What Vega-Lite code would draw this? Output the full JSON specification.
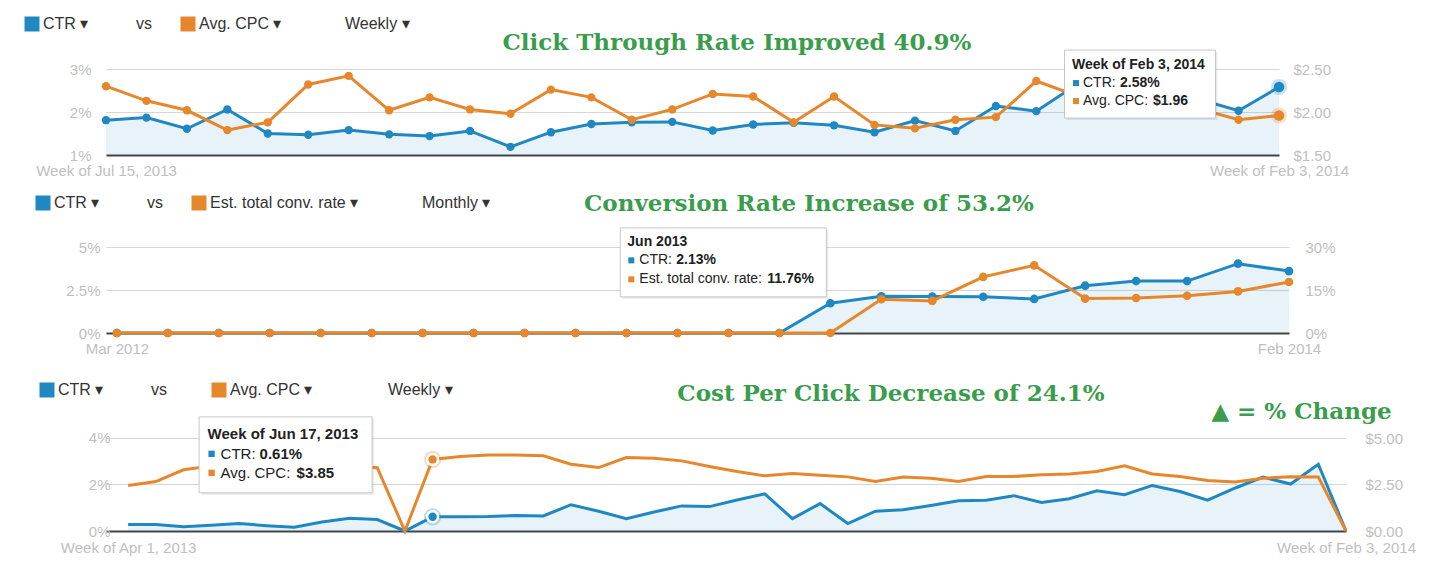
{
  "$schema": "https://vega.github.io/schema/vega-lite/v6.json",
  "background": "white",
  "padding": {"left": 24, "top": 16, "right": 5, "bottom": 5},
  "config": {"view": {"stroke": null}},
  "spacing": 92,
  "bounds": "flush",
  "resolve": {"scale": {"color": "independent"}},
  "vconcat": [
    {
      "width": 1173,
      "height": 86,
      "title": {"text": "Click Through Rate Improved 40.9%", "frame": "group", "anchor": "middle", "dx": 44.5, "offset": -50, "baseline": "middle", "font": "DejaVu Serif", "fontSize": 23, "fontWeight": "bold", "color": "#3a9d4c"},
      "data": {"values": [
        {"w": "Jul 15, 2013", "ctr": 1.81, "cpc": 2.30},
        {"w": "Jul 22, 2013", "ctr": 1.87, "cpc": 2.13},
        {"w": "Jul 29, 2013", "ctr": 1.61, "cpc": 2.02},
        {"w": "Aug 5, 2013", "ctr": 2.06, "cpc": 1.79},
        {"w": "Aug 12, 2013", "ctr": 1.50, "cpc": 1.88},
        {"w": "Aug 19, 2013", "ctr": 1.47, "cpc": 2.32},
        {"w": "Aug 26, 2013", "ctr": 1.58, "cpc": 2.42},
        {"w": "Sep 2, 2013", "ctr": 1.48, "cpc": 2.02},
        {"w": "Sep 9, 2013", "ctr": 1.44, "cpc": 2.17},
        {"w": "Sep 16, 2013", "ctr": 1.56, "cpc": 2.03},
        {"w": "Sep 23, 2013", "ctr": 1.19, "cpc": 1.98},
        {"w": "Sep 30, 2013", "ctr": 1.53, "cpc": 2.26},
        {"w": "Oct 7, 2013", "ctr": 1.72, "cpc": 2.17},
        {"w": "Oct 14, 2013", "ctr": 1.76, "cpc": 1.91},
        {"w": "Oct 21, 2013", "ctr": 1.77, "cpc": 2.03},
        {"w": "Oct 28, 2013", "ctr": 1.57, "cpc": 2.21},
        {"w": "Nov 4, 2013", "ctr": 1.71, "cpc": 2.18},
        {"w": "Nov 11, 2013", "ctr": 1.75, "cpc": 1.88},
        {"w": "Nov 18, 2013", "ctr": 1.69, "cpc": 2.18},
        {"w": "Nov 25, 2013", "ctr": 1.53, "cpc": 1.85},
        {"w": "Dec 2, 2013", "ctr": 1.80, "cpc": 1.81},
        {"w": "Dec 9, 2013", "ctr": 1.56, "cpc": 1.91},
        {"w": "Dec 16, 2013", "ctr": 2.14, "cpc": 1.94},
        {"w": "Dec 23, 2013", "ctr": 2.02, "cpc": 2.36},
        {"w": "Dec 30, 2013", "ctr": 2.64, "cpc": 2.19},
        {"w": "Jan 6, 2014", "ctr": 2.50, "cpc": 2.15},
        {"w": "Jan 13, 2014", "ctr": 2.40, "cpc": 2.10},
        {"w": "Jan 20, 2014", "ctr": 2.30, "cpc": 2.04},
        {"w": "Jan 27, 2014", "ctr": 2.03, "cpc": 1.91},
        {"w": "Feb 3, 2014", "ctr": 2.58, "cpc": 1.96}
      ]},
      "encoding": {
        "x": {"field": "w", "type": "ordinal", "sort": null,
          "scale": {"type": "point", "padding": 0, "align": 1},
          "axis": {"values": ["Jul 15, 2013", "Feb 3, 2014"], "labelExpr": "'Week of ' + datum.label", "title": null, "ticks": false, "grid": false, "domainColor": "#444444", "domainWidth": 2, "labelAngle": 0, "labelAlign": "center", "labelFlush": false, "labelOverlap": false, "labelPadding": 8, "labelFontSize": 15, "labelColor": "#c0c0c0", "labelFont": "Liberation Sans"}}
      },
      "layer": [
        {
          "encoding": {"y": {"field": "ctr", "type": "quantitative", "scale": {"domain": [1, 3], "nice": false, "zero": false},
            "axis": {"orient": "left", "values": [1, 2, 3], "labelExpr": "datum.value + '%'", "title": null, "grid": true, "gridColor": "#d6d6d6", "domain": false, "ticks": false, "labelPadding": 15, "labelFontSize": 15, "labelColor": "#c0c0c0", "labelFont": "Liberation Sans"}}},
          "layer": [
            {"mark": {"type": "area", "color": "#1f88c2", "opacity": 0.1, "clip": true}},
            {"mark": {"type": "line", "color": "#1f88c2", "strokeWidth": 3}},
            {"mark": {"type": "point", "filled": true, "opacity": 1, "size": 70},
             "encoding": {"color": {"datum": "CTR", "type": "nominal",
               "scale": {"domain": ["CTR", "vs", "Avg. CPC", "Weekly"], "range": ["#1f88c2", "rgba(0,0,0,0)", "#e6872c", "rgba(0,0,0,0)"]},
               "legend": {"title": null, "orient": "none", "legendX": -82, "legendY": -53, "direction": "horizontal", "symbolType": "square", "symbolSize": 225, "symbolStrokeWidth": 0, "labelFont": "Liberation Sans", "labelFontSize": 16, "labelColor": "#333333", "labelOffset": 3, "columnPadding": 28, "labelLimit": 400, "padding": 0,
                 "labelExpr": "datum.label === 'vs' ? 'vs' : datum.label === 'Weekly' ? '\u200b\u2003Weekly ▾' : datum.label + ' ▾'"}}}},
            {"transform": [{"filter": "datum.w === 'Feb 3, 2014'"}], "mark": {"type": "point", "filled": true, "color": "#1f88c2", "opacity": 0.25, "size": 260}},
            {"transform": [{"filter": "datum.w === 'Feb 3, 2014'"}], "mark": {"type": "point", "filled": true, "color": "#1f88c2", "opacity": 1, "size": 110}}
          ]
        },
        {
          "encoding": {"y": {"field": "cpc", "type": "quantitative", "scale": {"domain": [1.5, 2.5], "nice": false, "zero": false},
            "axis": {"orient": "right", "values": [1.5, 2, 2.5], "format": "$.2f", "title": null, "grid": false, "domain": false, "ticks": false, "labelPadding": 14, "labelFontSize": 15, "labelColor": "#c0c0c0", "labelFont": "Liberation Sans"}}},
          "layer": [
            {"mark": {"type": "line", "color": "#e6872c", "strokeWidth": 3}},
            {"mark": {"type": "point", "filled": true, "opacity": 1, "size": 70},
             "encoding": {"color": {"datum": "Avg. CPC", "type": "nominal"}}},
            {"transform": [{"filter": "datum.w === 'Feb 3, 2014'"}], "mark": {"type": "point", "filled": true, "color": "#e6872c", "opacity": 0.25, "size": 260}},
            {"transform": [{"filter": "datum.w === 'Feb 3, 2014'"}], "mark": {"type": "point", "filled": true, "color": "#e6872c", "opacity": 1, "size": 110}}
          ]
        },
        {
          "transform": [{"filter": "datum.w === 'Feb 3, 2014'"}],
          "encoding": {"y": {"field": "ctr", "type": "quantitative", "scale": {"domain": [1, 3], "nice": false, "zero": false}, "axis": null}},
          "layer": [
            {"mark": {"type": "point", "shape": "M-1,-0.4503L1,-0.4503L1,0.4503L-1,0.4503Z", "size": 22801, "filled": true, "fill": "#000000", "opacity": 0.08, "strokeWidth": 0, "xOffset": -137, "yOffset": -1}},
            {"mark": {"type": "point", "shape": "M-1,-0.4503L1,-0.4503L1,0.4503L-1,0.4503Z", "size": 22801, "filled": true, "fill": "#ffffff", "stroke": "#c8c8c8", "strokeWidth": 1, "opacity": 1, "xOffset": -139, "yOffset": -3}},
            {"mark": {"type": "text", "text": "Week of Feb 3, 2014", "align": "left", "baseline": "middle", "dx": -207, "dy": -22, "font": "Liberation Sans", "fontSize": 14, "fontWeight": "bold", "color": "#222222"}},
            {"mark": {"type": "point", "shape": "square", "size": 36, "filled": true, "color": "#1f88c2", "opacity": 1, "xOffset": -203, "yOffset": -4}},
            {"mark": {"type": "text", "text": "CTR:", "align": "left", "baseline": "middle", "dx": -196, "dy": -4, "font": "Liberation Sans", "fontSize": 14, "color": "#222222"}},
            {"mark": {"type": "text", "text": "2.58%", "align": "left", "baseline": "middle", "dx": -159, "dy": -4, "font": "Liberation Sans", "fontSize": 14, "fontWeight": "bold", "color": "#222222"}},
            {"mark": {"type": "point", "shape": "square", "size": 36, "filled": true, "color": "#e6872c", "opacity": 1, "xOffset": -203, "yOffset": 14}},
            {"mark": {"type": "text", "text": "Avg. CPC:", "align": "left", "baseline": "middle", "dx": -196, "dy": 14, "font": "Liberation Sans", "fontSize": 14, "color": "#222222"}},
            {"mark": {"type": "text", "text": "$1.96", "align": "left", "baseline": "middle", "dx": -126, "dy": 14, "font": "Liberation Sans", "fontSize": 14, "fontWeight": "bold", "color": "#222222"}}
          ]
        }
      ],
      "resolve": {"scale": {"y": "independent"}}
    },
    {
      "width": 1183,
      "height": 86,
      "title": {"text": "Conversion Rate Increase of 53.2%", "frame": "group", "anchor": "middle", "dx": 111.5, "offset": -32, "baseline": "middle", "font": "DejaVu Serif", "fontSize": 23, "fontWeight": "bold", "color": "#3a9d4c"},
      "data": {"values": [
        {"w": "Mar 2012", "ctr": 0, "conv": 0},
        {"w": "Apr 2012", "ctr": 0, "conv": 0},
        {"w": "May 2012", "ctr": 0, "conv": 0},
        {"w": "Jun 2012", "ctr": 0, "conv": 0},
        {"w": "Jul 2012", "ctr": 0, "conv": 0},
        {"w": "Aug 2012", "ctr": 0, "conv": 0},
        {"w": "Sep 2012", "ctr": 0, "conv": 0},
        {"w": "Oct 2012", "ctr": 0, "conv": 0},
        {"w": "Nov 2012", "ctr": 0, "conv": 0},
        {"w": "Dec 2012", "ctr": 0, "conv": 0},
        {"w": "Jan 2013", "ctr": 0, "conv": 0},
        {"w": "Feb 2013", "ctr": 0, "conv": 0},
        {"w": "Mar 2013", "ctr": 0, "conv": 0},
        {"w": "Apr 2013", "ctr": 0, "conv": 0},
        {"w": "May 2013", "ctr": 1.73, "conv": 0},
        {"w": "Jun 2013", "ctr": 2.13, "conv": 11.76},
        {"w": "Jul 2013", "ctr": 2.12, "conv": 11.2},
        {"w": "Aug 2013", "ctr": 2.11, "conv": 19.6},
        {"w": "Sep 2013", "ctr": 1.98, "conv": 23.6},
        {"w": "Oct 2013", "ctr": 2.75, "conv": 12.0},
        {"w": "Nov 2013", "ctr": 3.02, "conv": 12.2},
        {"w": "Dec 2013", "ctr": 3.02, "conv": 13.0},
        {"w": "Jan 2014", "ctr": 4.03, "conv": 14.5},
        {"w": "Feb 2014", "ctr": 3.60, "conv": 17.8}
      ]},
      "encoding": {
        "x": {"field": "w", "type": "ordinal", "sort": null,
          "scale": {"type": "point", "padding": 0.107, "align": 1},
          "axis": {"values": ["Mar 2012", "Feb 2014"], "title": null, "ticks": false, "grid": false, "domainColor": "#444444", "domainWidth": 2, "labelAngle": 0, "labelAlign": "center", "labelFlush": false, "labelOverlap": false, "labelPadding": 8, "labelFontSize": 15, "labelColor": "#c0c0c0", "labelFont": "Liberation Sans"}}
      },
      "layer": [
        {
          "encoding": {"y": {"field": "ctr", "type": "quantitative", "scale": {"domain": [0, 5], "nice": false},
            "axis": {"orient": "left", "values": [0, 2.5, 5], "labelExpr": "datum.value + '%'", "title": null, "grid": true, "gridColor": "#d6d6d6", "domain": false, "ticks": false, "labelPadding": 6, "labelFontSize": 15, "labelColor": "#c0c0c0", "labelFont": "Liberation Sans"}}},
          "layer": [
            {"mark": {"type": "area", "color": "#1f88c2", "opacity": 0.1, "clip": true}},
            {"mark": {"type": "line", "color": "#1f88c2", "strokeWidth": 3}},
            {"mark": {"type": "point", "filled": true, "opacity": 1, "size": 75},
             "encoding": {"color": {"datum": "CTR", "type": "nominal",
               "scale": {"domain": ["CTR", "vs", "Est. total conv. rate", "Monthly"], "range": ["#1f88c2", "rgba(0,0,0,0)", "#e6872c", "rgba(0,0,0,0)"]},
               "legend": {"title": null, "orient": "none", "legendX": -71, "legendY": -52, "direction": "horizontal", "symbolType": "square", "symbolSize": 225, "symbolStrokeWidth": 0, "labelFont": "Liberation Sans", "labelFontSize": 16, "labelColor": "#333333", "labelOffset": 3, "columnPadding": 28, "labelLimit": 400, "padding": 0,
                 "labelExpr": "datum.label === 'vs' ? 'vs' : datum.label === 'Monthly' ? '\u200b\u2003Monthly ▾' : datum.label + ' ▾'"}}}}
          ]
        },
        {
          "encoding": {"y": {"field": "conv", "type": "quantitative", "scale": {"domain": [0, 30], "nice": false},
            "axis": {"orient": "right", "values": [0, 15, 30], "labelExpr": "datum.value + '%'", "title": null, "grid": false, "domain": false, "ticks": false, "labelPadding": 16, "labelFontSize": 15, "labelColor": "#c0c0c0", "labelFont": "Liberation Sans"}}},
          "layer": [
            {"mark": {"type": "line", "color": "#e6872c", "strokeWidth": 3}},
            {"mark": {"type": "point", "filled": true, "opacity": 1, "size": 75},
             "encoding": {"color": {"datum": "Est. total conv. rate", "type": "nominal"}}}
          ]
        },
        {
          "transform": [{"filter": "datum.w === 'Jun 2013'"}],
          "encoding": {"y": {"field": "ctr", "type": "quantitative", "scale": {"domain": [0, 5], "nice": false}, "axis": null}},
          "layer": [
            {"mark": {"type": "point", "shape": "M-1,-0.335L1,-0.335L1,0.335L-1,0.335Z", "size": 42436, "filled": true, "fill": "#000000", "opacity": 0.08, "strokeWidth": 0, "xOffset": -156, "yOffset": -32}},
            {"mark": {"type": "point", "shape": "M-1,-0.335L1,-0.335L1,0.335L-1,0.335Z", "size": 42436, "filled": true, "fill": "#ffffff", "stroke": "#c8c8c8", "strokeWidth": 1, "opacity": 1, "xOffset": -158, "yOffset": -34}},
            {"mark": {"type": "text", "text": "Jun 2013", "align": "left", "baseline": "middle", "dx": -254, "dy": -54, "font": "Liberation Sans", "fontSize": 14, "fontWeight": "bold", "color": "#222222"}},
            {"mark": {"type": "point", "shape": "square", "size": 36, "filled": true, "color": "#1f88c2", "opacity": 1, "xOffset": -250, "yOffset": -36}},
            {"mark": {"type": "text", "text": "CTR:", "align": "left", "baseline": "middle", "dx": -242, "dy": -36, "font": "Liberation Sans", "fontSize": 14, "color": "#222222"}},
            {"mark": {"type": "text", "text": "2.13%", "align": "left", "baseline": "middle", "dx": -205, "dy": -36, "font": "Liberation Sans", "fontSize": 14, "fontWeight": "bold", "color": "#222222"}},
            {"mark": {"type": "point", "shape": "square", "size": 36, "filled": true, "color": "#e6872c", "opacity": 1, "xOffset": -250, "yOffset": -17}},
            {"mark": {"type": "text", "text": "Est. total conv. rate:", "align": "left", "baseline": "middle", "dx": -242, "dy": -17, "font": "Liberation Sans", "fontSize": 14, "color": "#222222"}},
            {"mark": {"type": "text", "text": "11.76%", "align": "left", "baseline": "middle", "dx": -114, "dy": -17, "font": "Liberation Sans", "fontSize": 14, "fontWeight": "bold", "color": "#222222"}}
          ]
        }
      ],
      "resolve": {"scale": {"y": "independent"}}
    },
    {
      "width": 1240,
      "height": 106,
      "title": {"text": "Cost Per Click Decrease of 24.1%", "frame": "group", "anchor": "middle", "dx": 165, "offset": -35, "baseline": "middle", "font": "DejaVu Serif", "fontSize": 23, "fontWeight": "bold", "color": "#3a9d4c"},
      "data": {"values": [
        {"w": "Apr 1, 2013", "ctr": 0.28, "cpc": 2.45},
        {"w": "Apr 8, 2013", "ctr": 0.28, "cpc": 2.66},
        {"w": "Apr 15, 2013", "ctr": 0.18, "cpc": 3.29},
        {"w": "Apr 22, 2013", "ctr": 0.25, "cpc": 3.50},
        {"w": "Apr 29, 2013", "ctr": 0.32, "cpc": 3.60},
        {"w": "May 6, 2013", "ctr": 0.23, "cpc": 3.70},
        {"w": "May 13, 2013", "ctr": 0.16, "cpc": 3.65},
        {"w": "May 20, 2013", "ctr": 0.39, "cpc": 3.55},
        {"w": "May 27, 2013", "ctr": 0.55, "cpc": 3.50},
        {"w": "Jun 3, 2013", "ctr": 0.49, "cpc": 3.40},
        {"w": "Jun 10, 2013", "ctr": 0, "cpc": 0},
        {"w": "Jun 17, 2013", "ctr": 0.61, "cpc": 3.85},
        {"w": "Jun 24, 2013", "ctr": 0.61, "cpc": 4.00},
        {"w": "Jul 1, 2013", "ctr": 0.62, "cpc": 4.09},
        {"w": "Jul 8, 2013", "ctr": 0.67, "cpc": 4.09},
        {"w": "Jul 15, 2013", "ctr": 0.65, "cpc": 4.04},
        {"w": "Jul 22, 2013", "ctr": 1.13, "cpc": 3.59},
        {"w": "Jul 29, 2013", "ctr": 0.85, "cpc": 3.41},
        {"w": "Aug 5, 2013", "ctr": 0.53, "cpc": 3.95},
        {"w": "Aug 12, 2013", "ctr": 0.82, "cpc": 3.91},
        {"w": "Aug 19, 2013", "ctr": 1.08, "cpc": 3.77},
        {"w": "Aug 26, 2013", "ctr": 1.05, "cpc": 3.47},
        {"w": "Sep 2, 2013", "ctr": 1.33, "cpc": 3.20},
        {"w": "Sep 9, 2013", "ctr": 1.60, "cpc": 2.97},
        {"w": "Sep 16, 2013", "ctr": 0.53, "cpc": 3.09},
        {"w": "Sep 23, 2013", "ctr": 1.18, "cpc": 3.00},
        {"w": "Sep 30, 2013", "ctr": 0.32, "cpc": 2.91},
        {"w": "Oct 7, 2013", "ctr": 0.85, "cpc": 2.66},
        {"w": "Oct 14, 2013", "ctr": 0.91, "cpc": 2.90},
        {"w": "Oct 21, 2013", "ctr": 1.10, "cpc": 2.84},
        {"w": "Oct 28, 2013", "ctr": 1.30, "cpc": 2.66},
        {"w": "Nov 4, 2013", "ctr": 1.32, "cpc": 2.93},
        {"w": "Nov 11, 2013", "ctr": 1.52, "cpc": 2.93},
        {"w": "Nov 18, 2013", "ctr": 1.23, "cpc": 3.02},
        {"w": "Nov 25, 2013", "ctr": 1.39, "cpc": 3.06},
        {"w": "Dec 2, 2013", "ctr": 1.73, "cpc": 3.20},
        {"w": "Dec 9, 2013", "ctr": 1.56, "cpc": 3.50},
        {"w": "Dec 16, 2013", "ctr": 1.96, "cpc": 3.07},
        {"w": "Dec 23, 2013", "ctr": 1.70, "cpc": 2.93},
        {"w": "Dec 30, 2013", "ctr": 1.33, "cpc": 2.72},
        {"w": "Jan 6, 2014", "ctr": 1.85, "cpc": 2.63},
        {"w": "Jan 13, 2014", "ctr": 2.32, "cpc": 2.84},
        {"w": "Jan 20, 2014", "ctr": 2.02, "cpc": 2.91},
        {"w": "Jan 27, 2014", "ctr": 2.87, "cpc": 2.90},
        {"w": "Feb 3, 2014", "ctr": 0, "cpc": 0}
      ]},
      "encoding": {
        "x": {"field": "w", "type": "ordinal", "sort": null,
          "scale": {"type": "point", "padding": 0.4, "align": 1},
          "axis": {"values": ["Apr 1, 2013", "Feb 3, 2014"], "labelExpr": "'Week of ' + datum.label", "title": null, "ticks": false, "grid": false, "domainColor": "#444444", "domainWidth": 2, "labelAngle": 0, "labelAlign": "center", "labelFlush": false, "labelOverlap": false, "labelPadding": 9, "labelFontSize": 15, "labelColor": "#c0c0c0", "labelFont": "Liberation Sans"}}
      },
      "layer": [
        {
          "encoding": {"y": {"field": "ctr", "type": "quantitative", "scale": {"domain": [0, 4.559], "nice": false},
            "axis": {"orient": "left", "values": [0, 2, 4], "labelExpr": "datum.value + '%'", "title": null, "grid": true, "gridColor": "#d6d6d6", "domain": false, "ticks": false, "labelPadding": -4, "labelFontSize": 15, "labelColor": "#c0c0c0", "labelFont": "Liberation Sans"}}},
          "layer": [
            {"mark": {"type": "area", "color": "#1f88c2", "opacity": 0.1, "clip": true}},
            {"mark": {"type": "line", "color": "#1f88c2", "strokeWidth": 3}},
            {"transform": [{"filter": "datum.w === 'Jun 17, 2013'"}], "mark": {"type": "point", "filled": true, "color": "#1f88c2", "opacity": 0.3, "size": 300}},
            {"transform": [{"filter": "datum.w === 'Jun 17, 2013'"}],
             "mark": {"type": "point", "filled": true, "opacity": 1, "size": 120, "stroke": "#ffffff", "strokeWidth": 2.5},
             "encoding": {"color": {"datum": "CTR", "type": "nominal",
               "scale": {"domain": ["CTR", "vs", "Avg. CPC", "Weekly"], "range": ["#1f88c2", "rgba(0,0,0,0)", "#e6872c", "rgba(0,0,0,0)"]},
               "legend": {"title": null, "orient": "none", "legendX": -67, "legendY": -43, "direction": "horizontal", "symbolType": "square", "symbolSize": 225, "symbolStrokeWidth": 0, "labelFont": "Liberation Sans", "labelFontSize": 16, "labelColor": "#333333", "labelOffset": 3, "columnPadding": 28, "labelLimit": 400, "padding": 0,
                 "labelExpr": "datum.label === 'vs' ? 'vs\u2003\u200b' : datum.label === 'Weekly' ? '\u200b\u2003\u2002\u2005Weekly ▾' : datum.label + ' ▾'"}}}}
          ]
        },
        {
          "encoding": {"y": {"field": "cpc", "type": "quantitative", "scale": {"domain": [0, 5.699], "nice": false},
            "axis": {"orient": "right", "values": [0, 2.5, 5], "format": "$.2f", "title": "▲ = % Change", "titleAngle": 0, "titleX": -45, "titleY": -14, "titleAlign": "center", "titleBaseline": "middle", "titleFont": "DejaVu Serif", "titleFontSize": 23, "titleFontWeight": "bold", "titleColor": "#3a9d4c", "grid": false, "domain": false, "ticks": false, "labelPadding": 19, "labelFontSize": 15, "labelColor": "#c0c0c0", "labelFont": "Liberation Sans"}}},
          "layer": [
            {"mark": {"type": "line", "color": "#e6872c", "strokeWidth": 3}},
            {"transform": [{"filter": "datum.w === 'Jun 17, 2013'"}], "mark": {"type": "point", "filled": true, "color": "#e6872c", "opacity": 0.3, "size": 300}},
            {"transform": [{"filter": "datum.w === 'Jun 17, 2013'"}],
             "mark": {"type": "point", "filled": true, "opacity": 1, "size": 120, "stroke": "#ffffff", "strokeWidth": 2.5},
             "encoding": {"color": {"datum": "Avg. CPC", "type": "nominal"}}}
          ]
        },
        {
          "transform": [{"filter": "datum.w === 'Jun 17, 2013'"}],
          "encoding": {"y": {"field": "ctr", "type": "quantitative", "scale": {"domain": [0, 4.559], "nice": false}, "axis": null}},
          "layer": [
            {"mark": {"type": "point", "shape": "M-1,-0.439L1,-0.439L1,0.439L-1,0.439Z", "size": 29929, "filled": true, "fill": "#000000", "opacity": 0.08, "strokeWidth": 0, "xOffset": -145, "yOffset": -60}},
            {"mark": {"type": "point", "shape": "M-1,-0.439L1,-0.439L1,0.439L-1,0.439Z", "size": 29929, "filled": true, "fill": "#ffffff", "stroke": "#c8c8c8", "strokeWidth": 1, "opacity": 1, "xOffset": -147, "yOffset": -62}},
            {"mark": {"type": "text", "text": "Week of Jun 17, 2013", "align": "left", "baseline": "middle", "dx": -225, "dy": -83, "font": "Liberation Sans", "fontSize": 15, "fontWeight": "bold", "color": "#222222"}},
            {"mark": {"type": "point", "shape": "square", "size": 40, "filled": true, "color": "#1f88c2", "opacity": 1, "xOffset": -221, "yOffset": -63}},
            {"mark": {"type": "text", "text": "CTR:", "align": "left", "baseline": "middle", "dx": -212, "dy": -63, "font": "Liberation Sans", "fontSize": 15, "color": "#222222"}},
            {"mark": {"type": "text", "text": "0.61%", "align": "left", "baseline": "middle", "dx": -173, "dy": -63, "font": "Liberation Sans", "fontSize": 15, "fontWeight": "bold", "color": "#222222"}},
            {"mark": {"type": "point", "shape": "square", "size": 40, "filled": true, "color": "#e6872c", "opacity": 1, "xOffset": -221, "yOffset": -44}},
            {"mark": {"type": "text", "text": "Avg. CPC:", "align": "left", "baseline": "middle", "dx": -212, "dy": -44, "font": "Liberation Sans", "fontSize": 15, "color": "#222222"}},
            {"mark": {"type": "text", "text": "$3.85", "align": "left", "baseline": "middle", "dx": -136, "dy": -44, "font": "Liberation Sans", "fontSize": 15, "fontWeight": "bold", "color": "#222222"}}
          ]
        }
      ],
      "resolve": {"scale": {"y": "independent"}}
    }
  ]
}
